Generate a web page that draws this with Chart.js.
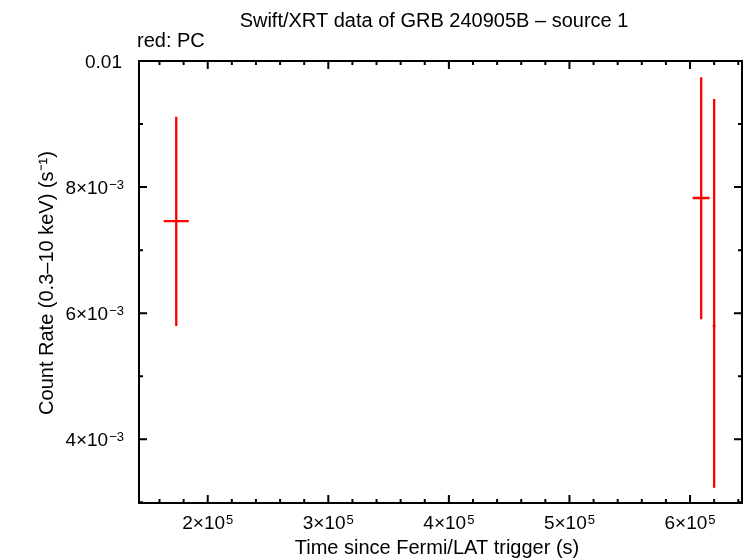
<!DOCTYPE html>
<html>
<head>
<meta charset="utf-8">
<script src="https://cdn.jsdelivr.net/npm/chart.js@4/dist/chart.umd.min.js"></script>
<style>
  html, body { margin: 0; padding: 0; background: #fff; }
  #wrap { width: 746px; height: 558px; }
</style>
</head>
<body>
<div id="wrap"><canvas id="lc" width="746" height="558"></canvas></div>
<script>
// data (time in s, rate in counts/s)
const times   = [1.739e5, 6.0925e5, 6.200e5];
const timeErr = [1.04e4, 7.0e3, 1.2e3];
const rates   = [7.462e-3, 7.827e-3, 5.797e-3];
const rateHi  = [9.117e-3, 9.741e-3, 9.397e-3];
const rateLo  = [5.797e-3, 5.903e-3, 3.232e-3];

// tick labels: [base, exponent]
const xTicks = [2e5, 3e5, 4e5, 5e5, 6e5];
const xTickLabels = [["2×10", "5"], ["3×10", "5"], ["4×10", "5"], ["5×10", "5"], ["6×10", "5"]];
const yTicks = [4e-3, 6e-3, 8e-3, 0.01];
const yTickLabels = [["4×10", "−3"], ["6×10", "−3"], ["8×10", "−3"], ["0.01", ""]];

const FONT = "'Liberation Sans', Arial, Helvetica, sans-serif";
const BASE = "19px " + FONT, SUP = "13px " + FONT;

function labelWidth(c, lab) {
  c.font = BASE; let w = c.measureText(lab[0]).width;
  c.font = SUP; w += lab[1] ? c.measureText(lab[1]).width + 1 : 0;
  return w;
}
function drawLabel(c, lab, x, baseline) {
  c.font = BASE; c.fillText(lab[0], x, baseline);
  if (lab[1]) {
    const w = c.measureText(lab[0]).width;
    c.font = SUP; c.fillText(lab[1], x + w + 1, baseline - 5);
  }
}

// error bars, frame, inward ticks and the texts
const decor = {
  id: "decor",
  afterDatasetsDraw(chart) {
    const c = chart.ctx, a = chart.chartArea;
    const xs = chart.scales.x, ys = chart.scales.y;

    c.save();
    c.strokeStyle = "#ff0000";
    c.lineWidth = 2.3;
    c.lineCap = "butt";
    times.forEach((t, i) => {
      const px = xs.getPixelForValue(t);
      const py = ys.getPixelForValue(rates[i]);
      c.beginPath();
      c.moveTo(px, ys.getPixelForValue(rateHi[i]));
      c.lineTo(px, ys.getPixelForValue(rateLo[i]));
      c.moveTo(xs.getPixelForValue(t - timeErr[i]), py);
      c.lineTo(xs.getPixelForValue(t + timeErr[i]), py);
      c.stroke();
    });
    c.restore();

    c.save();
    c.strokeStyle = "#000";
    c.lineWidth = 2;
    c.strokeRect(a.left, a.top, a.right - a.left, a.bottom - a.top);

    const tick = (len, horiz, p) => {
      c.beginPath();
      if (horiz) {
        c.moveTo(p, a.bottom); c.lineTo(p, a.bottom - len);
        c.moveTo(p, a.top); c.lineTo(p, a.top + len);
      } else {
        c.moveTo(a.left, p); c.lineTo(a.left + len, p);
        c.moveTo(a.right, p); c.lineTo(a.right - len, p);
      }
      c.stroke();
    };
    for (let v = 1.6e5; v < xs.max; v += 2e4) {
      const major = Math.abs(v / 1e5 - Math.round(v / 1e5)) < 1e-6;
      tick(major ? 8 : 4, true, xs.getPixelForValue(v));
    }
    for (let k = 3; k <= 10; k++) {
      const v = k * 1e-3;
      if (v < ys.min) continue;
      tick(k % 2 === 0 ? 8 : 4, false, ys.getPixelForValue(v));
    }

    c.fillStyle = "#000";
    c.textBaseline = "alphabetic";
    c.textAlign = "left";
    xTicks.forEach((v, i) => {
      const lab = xTickLabels[i];
      const w = labelWidth(c, lab);
      drawLabel(c, lab, xs.getPixelForValue(v) - w / 2, a.bottom + 26);
    });
    yTicks.forEach((v, i) => {
      const lab = yTickLabels[i];
      const w = labelWidth(c, lab);
      const py = ys.getPixelForValue(v);
      drawLabel(c, lab, (lab[1] ? 124 : 122) - w, py + 7);
    });

    c.font = "20px " + FONT;
    c.textAlign = "center";
    c.fillText("Swift/XRT data of GRB 240905B – source 1", 434, 27);
    c.textAlign = "left";
    c.fillText("red: PC", 137, 47);
    c.textAlign = "center";
    c.fillText("Time since Fermi/LAT trigger (s)", 437, 554);
    c.translate(53, 283);
    c.rotate(-Math.PI / 2);
    c.fillText("Count Rate (0.3–10 keV) (s⁻¹)", 0, 0);
    c.restore();
  }
};

new Chart(document.getElementById("lc"), {
  type: "scatter",
  data: {
    datasets: [{
      data: times.map((t, i) => ({ x: t, y: rates[i] })),
      pointRadius: 0,
      showLine: false
    }]
  },
  options: {
    responsive: false,
    animation: false,
    events: [],
    layout: { padding: { top: 61, right: 4, left: 0, bottom: 0 } },
    plugins: { legend: { display: false }, tooltip: { enabled: false } },
    scales: {
      x: {
        type: "linear",
        min: 1.43e5,
        max: 6.431e5,
        afterBuildTicks: s => { s.ticks = xTicks.map(v => ({ value: v })); },
        afterFit: s => { s.height = 55; },
        grid: { display: false, drawTicks: false },
        border: { display: false },
        ticks: { display: false }
      },
      y: {
        type: "linear",
        min: 2.99e-3,
        max: 0.01,
        afterBuildTicks: s => { s.ticks = yTicks.map(v => ({ value: v })); },
        afterFit: s => { s.width = 139; },
        grid: { display: false, drawTicks: false },
        border: { display: false },
        ticks: { display: false }
      }
    }
  },
  plugins: [decor]
});
</script>
</body>
</html>
